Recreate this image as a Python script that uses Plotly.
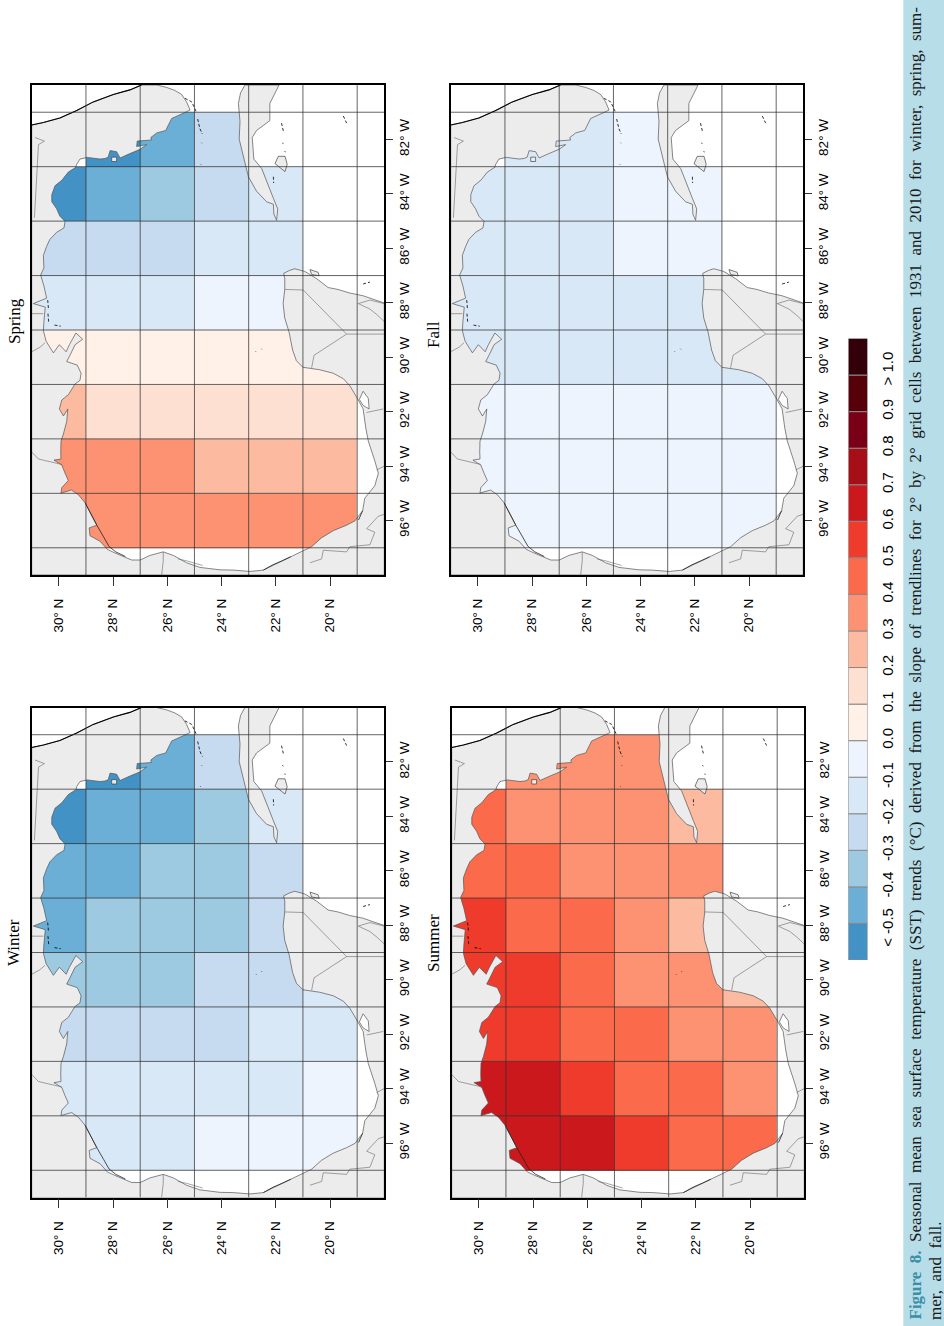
import plotly.graph_objects as go

W, H = 944, 1326

# cell centres of the 2 by 2 degree grid
cell_lat = [30, 28, 26, 24, 22, 20]
cell_lon = [82, 84, 86, 88, 90, 92, 94, 96]

# trend per cell, one row per longitude, class midpoints
winter = [
    [None, -0.55, -0.45, -0.25, None, None],
    [-0.55, -0.45, -0.45, -0.35, -0.15, None],
    [-0.45, -0.45, -0.35, -0.35, -0.25, None],
    [-0.45, -0.35, -0.35, -0.35, -0.25, None],
    [-0.35, -0.35, -0.35, -0.25, -0.25, -0.15],
    [-0.25, -0.25, -0.25, -0.25, -0.15, -0.15],
    [-0.15, -0.15, -0.15, -0.15, -0.15, -0.05],
    [-0.15, -0.15, -0.15, -0.05, -0.05, -0.05],
]
summer = [
    [None, 0.35, 0.35, 0.35, None, None],
    [0.45, 0.35, 0.35, 0.35, 0.25, None],
    [0.45, 0.45, 0.35, 0.35, 0.35, None],
    [0.55, 0.45, 0.45, 0.35, 0.25, None],
    [0.55, 0.55, 0.45, 0.35, 0.35, 0.25],
    [0.55, 0.55, 0.45, 0.45, 0.35, 0.35],
    [0.65, 0.65, 0.55, 0.45, 0.45, 0.35],
    [0.65, 0.65, 0.65, 0.55, 0.45, 0.45],
]
spring = [
    [None, -0.55, -0.45, -0.25, None, None],
    [-0.55, -0.45, -0.35, -0.25, -0.15, None],
    [-0.25, -0.25, -0.25, -0.15, -0.15, None],
    [-0.15, -0.15, -0.15, -0.05, -0.05, None],
    [0.05, 0.05, 0.05, 0.05, 0.05, 0.05],
    [0.25, 0.15, 0.15, 0.15, 0.15, 0.15],
    [0.35, 0.35, 0.35, 0.25, 0.25, 0.25],
    [0.35, 0.35, 0.35, 0.35, 0.35, 0.35],
]
fall = [
    [None, -0.15, -0.15, -0.05, None, None],
    [-0.15, -0.15, -0.15, -0.05, -0.05, None],
    [-0.15, -0.15, -0.15, -0.05, -0.05, None],
    [-0.15, -0.15, -0.15, -0.15, -0.15, None],
    [-0.15, -0.15, -0.15, -0.15, -0.15, -0.15],
    [-0.05, -0.05, -0.05, -0.05, -0.05, -0.05],
    [-0.05, -0.05, -0.05, -0.05, -0.05, -0.05],
    [-0.05, -0.05, -0.05, -0.05, -0.05, -0.05],
]

class_colors = ["#4292c6", "#6baed6", "#9ecae1", "#c6dbef", "#d9e8f7", "#edf4fd",
                "#fff0e8", "#fee0d2", "#fcbba1", "#fc9272", "#fb6a4a", "#ef3b2c",
                "#cb181d", "#a50f15", "#7a0017", "#56000a", "#33000a"]
class_labels = ["< -0.5\u00a0\u00a0\u00a0", "-0.4", "-0.3", "-0.2", "-0.1", "0.0", "0.1", "0.2",
                "0.3", "0.4", "0.5", "0.6", "0.7", "0.8", "0.9", "\u00a0\u00a0> 1.0"]

lat_ticks = [30, 28, 26, 24, 22, 20]
lat_labels = ["30° N\u00a0\u00a0", "28° N\u00a0\u00a0", "26° N\u00a0\u00a0", "24° N\u00a0\u00a0", "22° N\u00a0\u00a0", "20° N\u00a0\u00a0"]
lon_ticks = [82, 84, 86, 88, 90, 92, 94, 96]
lon_labels = ["82° W", "84° W", "86° W", "88° W", "90° W", "92° W", "94° W", "96° W"]
grid_lat = [29, 27, 25, 23, 21, 19]
grid_lon = [81, 83, 85, 87, 89, 91, 93, 95, 97]

# Florida, US gulf coast, Mexico, Yucatan, then the frame corners
land_lat = [31.00, 30.57, 29.96, 29.34, 28.73, 27.99, 27.38, 26.95, 26.39, 26.02, 25.72, 25.47, 25.29, 25.16,
            25.35, 25.66, 25.84, 26.06, 26.39, 26.61, 26.58, 27.11, 27.13, 26.76, 27.00, 27.38, 27.74, 27.87,
            28.11, 28.18, 28.30, 28.48, 28.95, 29.22, 29.34, 29.37, 29.65, 29.89, 30.14, 30.26, 30.26, 30.08,
            29.96, 29.77, 29.81, 30.08, 30.33, 30.45, 30.57, 30.55, 30.67, 30.55, 30.45, 30.94, 30.50, 30.55,
            30.57, 30.47, 30.20, 29.98, 29.73, 29.61, 29.37, 29.12, 29.40, 29.59, 29.71, 29.32, 29.18, 29.22,
            29.40, 29.65, 29.89, 29.98, 29.83, 29.67, 29.71, 29.83, 29.92, 29.93, 29.92, 30.18, 29.89, 29.77,
            29.65, 29.89, 29.92, 29.53, 29.28, 29.03, 28.85, 28.60, 28.88, 28.85, 28.48, 28.21, 27.93, 27.75,
            27.31, 27.00, 26.64, 26.15, 25.78, 25.29, 24.80, 24.06, 23.57, 22.95, 22.46, 22.03, 21.60, 21.05,
            20.68, 20.31, 19.88, 19.39, 19.08, 18.80, 18.72, 18.35, 18.22, 18.35, 18.59, 18.68, 18.72, 18.78,
            18.96, 19.27, 19.51, 19.88, 20.38, 21.00, 21.24, 21.38, 21.51, 21.67, 21.73, 21.67, 21.67, 21.71,
            21.49, 21.30, 20.93, 20.50, 20.07, 19.71, 19.28, 18.79, 18.00, 18.00, 31.00, 31.00]
land_lon = [81.47, 81.38, 81.21, 80.94, 80.62, 80.35, 80.18, 80.00, 80.00, 80.09, 80.20, 80.35, 80.62, 80.92,
            81.01, 81.14, 81.23, 81.67, 81.76, 81.93, 82.02, 82.06, 82.26, 82.19, 82.36, 82.52, 82.68, 82.45,
            82.41, 82.65, 82.70, 82.72, 82.66, 82.72, 82.91, 83.02, 83.20, 83.50, 83.70, 84.03, 84.29, 84.55,
            84.82, 85.01, 85.25, 85.41, 85.67, 85.93, 86.26, 86.72, 86.98, 87.38, 87.83, 88.03, 88.16, 88.69,
            89.02, 89.41, 89.84, 89.54, 89.80, 89.54, 89.11, 89.34, 89.54, 89.93, 90.16, 90.29, 90.59, 90.85,
            90.98, 91.38, 91.57, 91.90, 92.16, 91.90, 92.36, 92.82, 93.08, 93.48, 93.74, 93.78, 93.96, 94.26,
            94.53, 94.79, 94.99, 94.88, 95.05, 95.35, 95.71, 96.17, 96.27, 96.56, 96.76, 97.06, 97.19, 97.26,
            97.45, 97.45, 97.28, 97.15, 97.28, 97.55, 97.72, 97.81, 97.82, 97.87, 97.82, 97.61, 97.41, 97.15,
            96.96, 96.63, 96.37, 96.17, 96.01, 95.64, 95.18, 94.72, 94.26, 93.81, 93.08, 92.62, 92.23, 91.90,
            91.57, 91.05, 90.79, 90.59, 90.46, 90.37, 90.13, 89.74, 89.08, 88.56, 88.03, 87.51, 87.11, 86.92,
            86.81, 86.75, 86.85, 87.11, 87.44, 87.51, 87.64, 87.74, 88.01, 98.00, 98.00, 81.47]
atlantic_points = 8

cuba_lat = [23.14, 23.30, 23.38, 23.32, 23.35, 23.20, 23.01, 22.71, 22.34, 22.09, 22.07, 21.97, 21.93, 22.09,
            22.34, 22.52, 22.81, 22.87, 22.71, 22.22, 22.22, 21.91, 21.88, 23.14]
cuba_lon = [80.00, 80.29, 80.68, 81.34, 81.99, 82.65, 83.37, 83.90, 84.29, 84.38, 84.75, 84.97, 84.55, 84.16,
            83.50, 83.07, 82.72, 81.93, 81.67, 81.31, 80.68, 80.09, 80.00, 80.00]
# Isla de la Juventud, Cozumel, St George island
islands_lat = [22.03, 21.91, 21.66, 21.58, 21.66, 21.85, 22.03, None, 20.74, 20.44, 20.40, 20.68, 20.74, None,
               28.05, 27.87, 27.87, 28.05, 28.05]
islands_lon = [82.89, 82.62, 82.62, 82.91, 83.18, 83.04, 82.89, None, 86.78, 86.88, 87.01, 86.96, 86.78, None,
               82.65, 82.65, 82.81, 82.81, 82.65]
# Laguna de Terminos
lagoon_lat = [18.92, 18.78, 18.59, 18.56, 18.78, 18.92]
lagoon_lon = [91.55, 91.25, 91.51, 91.90, 91.77, 91.55]

# barrier islands in front of Texas and Tamaulipas
barrier_lat = [29.03, 28.85, 28.60, 28.35, 28.15, 27.90, 27.55, None, 22.46, 22.10, 21.75, 21.45, None, 18.95, 18.80]
barrier_lon = [95.35, 95.71, 96.17, 96.60, 96.95, 97.15, 97.32, None, 97.82, 97.62, 97.47, 97.33, None, 95.98, 95.64]

border_lat = [21.67, 20.99, 19.39, 20.59, 20.68, None, 19.39, 18.00, None,
              30.88, 30.53, 30.75, 30.90, None, 31.00, 30.69, 30.51, None, 31.00, 30.57, None,
              31.00, 30.75, 29.89, None, 18.96, 18.53, 18.00, None, 18.96, 18.53, 18.28, 18.00, None,
              18.65, 18.04, None, 18.28, 18.00, None,
              20.74, 20.31, 20.25, 19.39, 19.27, 18.53, 18.35, 18.65, 18.22, 18.00, None,
              26.21, 26.15, 26.15, None, 25.60, 25.29, 24.70]
border_lon = [87.51, 87.53, 89.15, 89.93, 90.39, None, 89.15, 89.15, None,
              81.93, 82.06, 82.19, 84.88, None, 89.80, 89.63, 89.47, None, 88.40, 88.40, None,
              93.48, 93.74, 93.94, None, 88.03, 87.90, 88.03, None, 88.03, 88.23, 88.43, 88.69, None,
              92.03, 91.90, None, 94.14, 94.00, None,
              97.55, 97.41, 97.09, 97.15, 96.96, 96.89, 96.43, 96.30, 95.84, 95.77, None,
              98.00, 97.48, 97.15, None, 97.41, 97.48, 97.65]

# keys, reefs and small islets, black ticks on the map
islet_lat = [25.35, 25.10, 24.92, None, 24.88, 24.80, 24.71, None, 24.74, 24.72, None, 24.78, 24.76, None,
             30.16, 29.93, None, 30.41, 30.38, None, 30.40, 30.37, None, 22.74, 22.72, None, 22.53, 22.51, None,
             21.79, 21.72, None, 21.75, 21.73, None, 21.67, 21.65, None, 22.09, 22.08, None,
             19.51, 19.39, None, 18.78, 18.53]
islet_lon = [80.49, 80.62, 81.01, None, 81.25, 81.60, 81.80, None, 82.12, 82.14, None, 82.90, 82.92, None,
             88.82, 88.86, None, 87.90, 88.25, None, 88.40, 88.75, None, 89.79, 89.81, None, 89.69, 89.71, None,
             81.40, 81.70, None, 82.12, 82.16, None, 82.43, 82.47, None, 83.37, 83.60, None,
             81.14, 81.40, None, 87.31, 87.24]

panels = [
    ("Winter", winter, "x", "y", 31.7, 384.3, 707.5, 1197.5, 13, 943),
    ("Summer", summer, "x2", "y2", 451.7, 804.3, 707.5, 1197.5, 433, 943),
    ("Spring", spring, "x3", "y3", 31.7, 384.3, 85.0, 575.0, 14, 321),
    ("Fall", fall, "x4", "y4", 450.7, 803.3, 85.0, 575.0, 433, 335),
]

colorscale = []
for i, c in enumerate(class_colors):
    colorscale.append([i / 17, c])
    colorscale.append([(i + 1) / 17, c])

grid_x, grid_y = [], []
for g in grid_lat:
    grid_x += [g, g, None]
    grid_y += [98, 80, None]
for g in grid_lon:
    grid_x += [31, 18, None]
    grid_y += [g, g, None]

fig = go.Figure()
layout = {}
annotations = []

for name, values, xa, ya, x0, x1, y0, y1, tx, ty in panels:
    common = dict(xaxis=xa, yaxis=ya, hoverinfo="skip", showlegend=False)
    fig.add_trace(go.Heatmap(x=cell_lat, y=cell_lon, z=values, zmin=-0.6, zmax=1.1, colorscale=colorscale,
                             showscale=False, xaxis=xa, yaxis=ya, hoverinfo="skip"))
    fig.add_trace(go.Scatter(x=land_lat, y=land_lon, mode="lines", fill="toself", fillcolor="#ececec",
                             line=dict(color="#555555", width=0.7), **common))
    fig.add_trace(go.Scatter(x=cuba_lat, y=cuba_lon, mode="lines", fill="toself", fillcolor="#ececec",
                             line=dict(color="#555555", width=0.7), **common))
    fig.add_trace(go.Scatter(x=islands_lat, y=islands_lon, mode="lines", fill="toself", fillcolor="#ececec",
                             line=dict(color="#444444", width=0.7), **common))
    fig.add_trace(go.Scatter(x=lagoon_lat, y=lagoon_lon, mode="lines", fill="toself", fillcolor="white",
                             line=dict(color="#555555", width=0.7), **common))
    fig.add_trace(go.Scatter(x=border_lat, y=border_lon, mode="lines",
                             line=dict(color="#666666", width=0.6), **common))
    fig.add_trace(go.Scatter(x=land_lat[:atlantic_points], y=land_lon[:atlantic_points], mode="lines",
                             line=dict(color="black", width=1.1), **common))
    fig.add_trace(go.Scatter(x=barrier_lat, y=barrier_lon, mode="lines",
                             line=dict(color="#222222", width=0.8), **common))
    fig.add_trace(go.Scatter(x=islet_lat, y=islet_lon, mode="lines",
                             line=dict(color="black", width=0.8, dash="3px,2px"), **common))
    fig.add_trace(go.Scatter(x=grid_x, y=grid_y, mode="lines",
                             line=dict(color="rgba(50,50,50,0.75)", width=1), **common))

    suffix = xa[1:]
    layout["xaxis" + suffix] = dict(
        domain=[x0 / W, x1 / W], range=[31, 18], anchor=ya, tickmode="array", tickvals=lat_ticks,
        ticktext=lat_labels, tickangle=-90, ticks="outside", ticklen=9, tickcolor="#333333", tickwidth=1,
        showgrid=False, zeroline=False, showline=True, mirror=True, linecolor="black", linewidth=1.5,
        tickfont=dict(family="Liberation Sans", size=13.5, color="black"))
    layout["yaxis" + suffix] = dict(
        domain=[1 - y1 / H, 1 - y0 / H], range=[98, 80], anchor=xa, side="right", tickmode="array",
        tickvals=lon_ticks, ticktext=lon_labels, tickangle=-90, ticks="outside", ticklen=7, tickcolor="#333333",
        tickwidth=1, showgrid=False, zeroline=False, showline=True, mirror=True, linecolor="black", linewidth=1.5,
        tickfont=dict(family="Liberation Sans", size=13.5, color="black"))
    annotations.append(dict(text=name, xref="paper", yref="paper", x=tx / W, y=1 - ty / H, textangle=-90,
                            showarrow=False, xanchor="center", yanchor="middle",
                            font=dict(family="Liberation Serif", size=17, color="black")))

# class legend, one stacked box per class
fig.add_trace(go.Bar(x=[0] * 17, y=[1] * 17, base=list(range(17)), width=1, marker_color=class_colors,
                     marker_line=dict(color="#8a8a8a", width=1), xaxis="x5", yaxis="y5",
                     hoverinfo="skip", showlegend=False))
layout["xaxis5"] = dict(domain=[848.3 / W, 867.5 / W], range=[-0.5, 0.5], anchor="y5", visible=False)
layout["yaxis5"] = dict(domain=[1 - 960 / H, 1 - 338.5 / H], range=[0, 17], anchor="x5", side="right",
                        tickmode="array", tickvals=list(range(1, 17)), ticktext=class_labels, tickangle=-90,
                        ticks="outside", ticklen=6, tickcolor="white", showgrid=False, zeroline=False,
                        showline=False, tickfont=dict(family="Liberation Sans", size=15, color="black"))

# the caption is justified in the page, so the word gaps are doubled
words_1 = ("Seasonal mean sea surface temperature (SST) trends (°C) derived from the slope of trendlines "
           "for 2° by 2° grid cells between 1931 and 2010 for winter, spring, sum-")
gap = "\u00a0\u00a0"
caption_1 = ("<b><span style='color:#3a8ea6'>Figure" + gap + "8.</span></b>" + gap + gap.join(words_1.split(" ")))
caption_2 = gap.join("mer, and fall.".split(" "))
annotations.append(dict(text=caption_1, xref="paper", yref="paper", x=915 / W, y=1 - 1322 / H, textangle=-90,
                        showarrow=False, xanchor="center", yanchor="bottom",
                        font=dict(family="Liberation Serif", size=17, color="#1a1a1a")))
annotations.append(dict(text=caption_2, xref="paper", yref="paper", x=935 / W, y=1 - 1322 / H, textangle=-90,
                        showarrow=False, xanchor="center", yanchor="bottom",
                        font=dict(family="Liberation Serif", size=17, color="#1a1a1a")))

fig.update_layout(
    width=W, height=H, margin=dict(l=0, r=0, t=0, b=0), paper_bgcolor="white", plot_bgcolor="white",
    barmode="overlay", annotations=annotations,
    shapes=[dict(type="rect", xref="paper", yref="paper", x0=903.3 / W, x1=1, y0=0, y1=1,
                 fillcolor="#b7dde8", line_width=0, layer="below")],
    **layout)

fig.write_html("out.html", config={"displayModeBar": False}, post_script="document.body.style.margin='0';")
